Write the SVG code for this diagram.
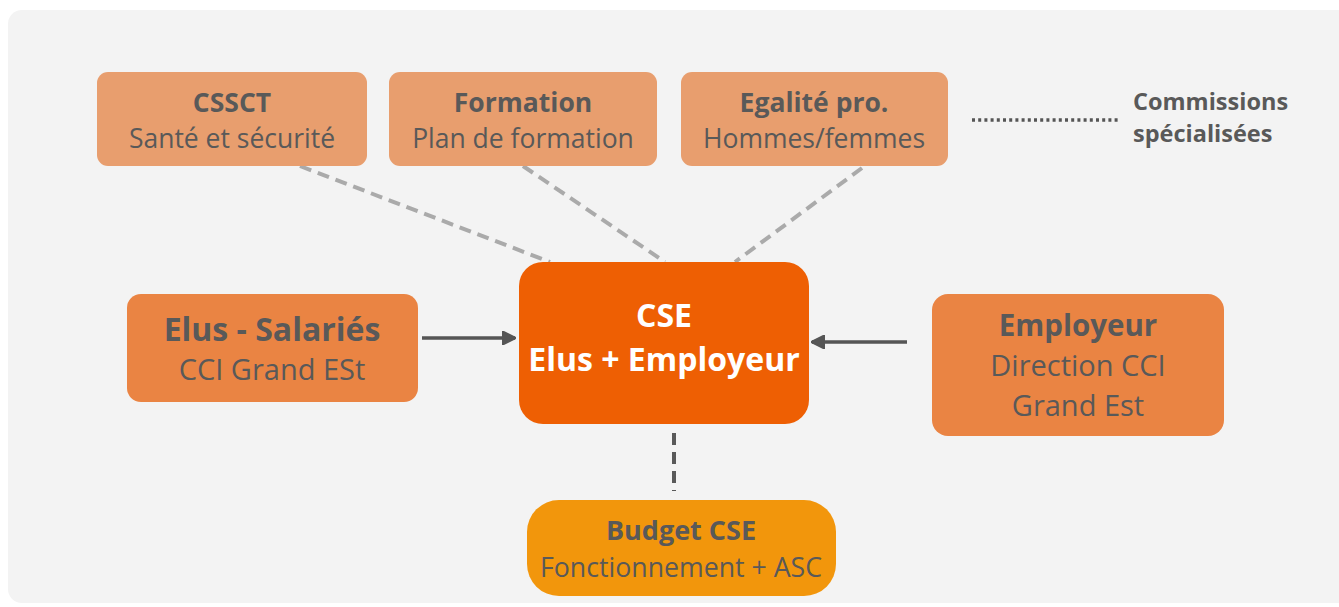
<svg xmlns="http://www.w3.org/2000/svg" width="1339" height="607" viewBox="0 0 1339 607">
<style>
text{font-family:"Open Sans","Noto Sans","Liberation Sans",sans-serif;text-anchor:middle;fill:#595959}
.b{font-weight:700}
.w{fill:#ffffff;font-weight:700}
.top{fill:#e89e6e}
.side{fill:#ea8443}
.gd{stroke:#aaaaaa;stroke-width:4;stroke-dasharray:12 7;fill:none}
.ar{stroke:#555555;stroke-width:3.5;fill:none}
</style>
<defs>
<marker id="ah" viewBox="0 0 10 10" refX="9" refY="5" markerWidth="4" markerHeight="4" orient="auto" markerUnits="strokeWidth">
<path d="M0,0 L10,5 L0,10 z" fill="#555555" stroke="#555555" stroke-linejoin="round"/>
</marker>
</defs>
<rect x="8" y="10" width="1345" height="593" rx="14" fill="#f3f3f3"/>
<g id="connectors">
<line class="gd" x1="300" y1="166" x2="550" y2="262"/>
<line class="gd" x1="523" y1="166" x2="665" y2="262"/>
<line class="gd" x1="862" y1="168" x2="735" y2="262"/>
<line class="ar" x1="422" y1="338" x2="515" y2="338" marker-end="url(#ah)"/>
<line class="ar" x1="907" y1="342" x2="812" y2="342" marker-end="url(#ah)"/>
<line x1="674" y1="433" x2="674" y2="491" stroke="#595959" stroke-width="4" stroke-dasharray="12 7"/>
<line x1="972" y1="120" x2="1120" y2="120" stroke="#555555" stroke-width="3.5" stroke-dasharray="3 3.2"/>
</g>
<g id="cssct">
<rect class="top" x="97" y="72" width="270" height="94" rx="11"/>
<text class="b" x="232" y="112" font-size="26.5">CSSCT</text>
<text x="232" y="148" font-size="26.5">Santé et sécurité</text>
</g>
<g id="formation">
<rect class="top" x="389" y="72" width="268" height="94" rx="11"/>
<text class="b" x="523" y="112" font-size="26.5">Formation</text>
<text x="523" y="148" font-size="26.5">Plan de formation</text>
</g>
<g id="egalite">
<rect class="top" x="681" y="72" width="267" height="94" rx="11"/>
<text class="b" x="814" y="112" font-size="26.5">Egalité pro.</text>
<text x="814" y="148" font-size="26.5">Hommes/femmes</text>
</g>
<g id="commissions">
<text class="b" x="1133" y="110" font-size="23.5" style="text-anchor:start">Commissions</text>
<text class="b" x="1133" y="142" font-size="23.5" style="text-anchor:start">spécialisées</text>
</g>
<g id="cse">
<rect x="519" y="262" width="290" height="162" rx="24" fill="#ee5f03"/>
<text class="w" x="664" y="327" font-size="32">CSE</text>
<text class="w" x="664" y="371" font-size="32">Elus + Employeur</text>
</g>
<g id="elus">
<rect class="side" x="127" y="294" width="291" height="108" rx="14"/>
<text class="b" x="272" y="341" font-size="32">Elus - Salariés</text>
<text x="272" y="380" font-size="29">CCI Grand ESt</text>
</g>
<g id="employeur">
<rect class="side" x="932" y="294" width="292" height="142" rx="16"/>
<text class="b" x="1078" y="336" font-size="29.5">Employeur</text>
<text x="1078" y="376" font-size="29">Direction CCI</text>
<text x="1078" y="416" font-size="29">Grand Est</text>
</g>
<g id="budget">
<rect x="527" y="500" width="309" height="96" rx="32" fill="#f2960c"/>
<text class="b" x="681" y="540" font-size="27">Budget CSE</text>
<text x="681" y="577" font-size="26.7">Fonctionnement + ASC</text>
</g>
</svg>
